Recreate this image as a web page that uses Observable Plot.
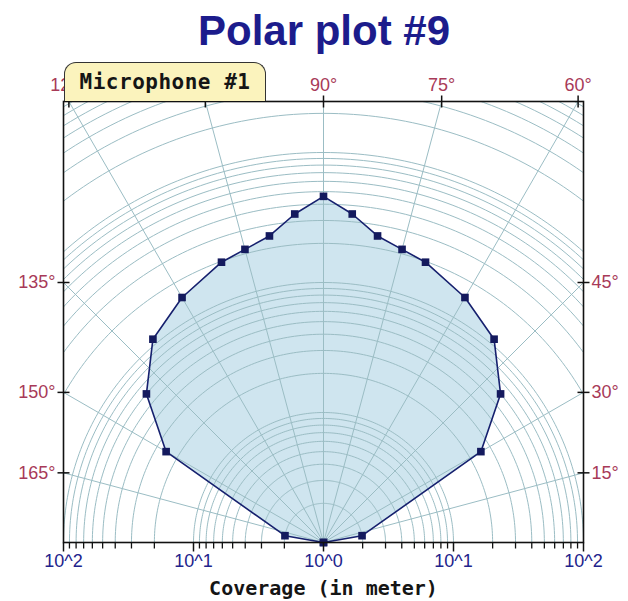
<!DOCTYPE html>
<html><head><meta charset="utf-8">
<script src="https://cdn.jsdelivr.net/npm/d3@7"></script>
<script src="https://cdn.jsdelivr.net/npm/@observablehq/plot@0.6"></script>
<style>
body{margin:0;background:#fff;}
#wrap{position:relative;width:628px;height:601px;overflow:hidden;}
#chart{position:absolute;left:0;top:0;}
#title{position:absolute;left:0;top:10px;width:648px;text-align:center;font:bold 42px "Liberation Sans",Arial,sans-serif;line-height:42px;color:#1c1c8c;}
#tab{position:absolute;left:64px;top:62px;width:202px;height:39px;box-sizing:border-box;background:#fbf3bd;border:1.5px solid #333;border-bottom:none;border-radius:12px 12px 0 0;font:bold 21px "DejaVu Sans Mono",monospace;letter-spacing:0.5px;color:#151515;display:flex;align-items:center;justify-content:center;}
</style></head><body>
<div id="wrap"><div id="chart"></div><div id="title">Polar plot #9</div><div id="tab">Microphone #1</div></div>
<script>
// ---- data (angle in degrees, radius in meter) ----
const angles = [0, 10, 30, 40, 50, 60, 70, 75, 80, 85, 90, 95, 100, 105, 110, 120, 130, 140, 150, 170, 180];
const radii  = [1, 2, 25, 60, 110, 150, 197, 216, 248, 344, 460, 344, 248, 216, 197, 150, 110, 60, 25, 2, 1];
const angleTicks = [15, 30, 45, 60, 75, 90, 105, 120, 135, 150, 165];
const angleLabels = [15, 30, 45, 60, 75, 90, 120, 135, 150, 165]; // 105° is hidden under the legend tab
const spokeAngles = [0, 15, 30, 45, 60, 75, 90, 105, 120, 135, 150, 165, 180];
const gridRadii = [2,3,4,5,6,7,8,9,10,20,30,40,50,60,70,80,90,100,200,300,400,500,600,700,800,900,1000,2000,3000,4000,5000,6000,7000,8000,9000];
const axisTickValues = [-2, -1, 0, 1, 2];
const axisTickLabels = ["10^2", "10^1", "10^0", "10^1", "10^2"];
const minorMultipliers = [2,3,4,5,6,7,8,9];
const xTitle = "Coverage (in meter)";

// ---- layout ----
const W = 628, H = 601, mL = 63, mR = 45, mT = 101, mB = 59;
const innerW = W - mL - mR, innerH = H - mT - mB;
const pxPerDecade = innerW / 4;
const yMax = innerH / pxPerDecade;
const u = 1 / pxPerDecade; // data units per pixel
const rad = d => d * Math.PI / 180;

const pts = angles.map((a, i) => {
  const L = Math.log10(radii[i]);
  return {x: L * Math.cos(rad(a)), y: L * Math.sin(rad(a))};
});

const circles = [];
for (const g of gridRadii) {
  const L = Math.log10(g);
  for (let t = 0; t <= 180; t += 1) circles.push({g, x: L * Math.cos(rad(t)), y: L * Math.sin(rad(t))});
}
const spokes = spokeAngles.map(a => ({x2: 6 * Math.cos(rad(a)), y2: 6 * Math.sin(rad(a))}));

function hit(a) {
  const c = Math.cos(rad(a)), s = Math.sin(rad(a));
  let t = yMax / s, side = "top";
  if (c > 1e-9 && 2 / c < t) { t = 2 / c; side = "right"; }
  if (c < -1e-9 && -2 / c < t) { t = -2 / c; side = "left"; }
  return {a, x: t * c, y: t * s, side, label: a + "°"};
}
const angPos = angleTicks.map(hit);
const labPos = angleLabels.map(hit);
const topT = angPos.filter(d => d.side === "top");
const sideT = angPos.filter(d => d.side !== "top");
const topL = labPos.filter(d => d.side === "top");
const leftL = labPos.filter(d => d.side === "left");
const rightL = labPos.filter(d => d.side === "right");

const minorTicks = [];
for (const d of [0, 1]) for (const k of minorMultipliers) {
  const v = Math.log10(k * Math.pow(10, d));
  minorTicks.push(v, -v);
}

const gridColor = "#9bbdc4";
const angColor = "#a83a58";
const navy = "#22238c";
const sans = "Liberation Sans, Arial, sans-serif";

const chart = Plot.plot({
  width: W, height: H,
  marginLeft: mL, marginRight: mR, marginTop: mT, marginBottom: mB,
  x: {domain: [-2, 2], axis: null},
  y: {domain: [0, yMax], axis: null},
  style: {background: "transparent", overflow: "visible"},
  marks: [
    Plot.line(pts, {x: "x", y: "y", fill: "#cfe5ef", stroke: "none"}),
    Plot.line(circles, {x: "x", y: "y", z: "g", stroke: gridColor, strokeWidth: 1, clip: true}),
    Plot.link(spokes, {x1: () => 0, y1: () => 0, x2: "x2", y2: "y2", stroke: gridColor, strokeWidth: 1, clip: true}),
    Plot.line(pts, {x: "x", y: "y", stroke: "#16206e", strokeWidth: 1.6}),
    Plot.dot(pts, {x: "x", y: "y", symbol: "square", r: 4.3, fill: "#141a5e", stroke: "none"}),
    Plot.frame({stroke: "#111", strokeWidth: 1.6}),
    // angle ticks across the frame
    Plot.link(topT, {x1: "x", x2: "x", y1: d => d.y - 6 * u, y2: d => d.y + 6 * u, stroke: "#111", strokeWidth: 1.5}),
    Plot.link(sideT, {x1: d => d.x - 6 * u, x2: d => d.x + 6 * u, y1: "y", y2: "y", stroke: "#111", strokeWidth: 1.5}),
    Plot.text(topL, {x: "x", y: "y", text: "label", dy: -16, fill: angColor, fontSize: 18, fontFamily: sans}),
    Plot.text(leftL, {x: "x", y: "y", text: "label", dx: -8, textAnchor: "end", fill: angColor, fontSize: 18, fontFamily: sans}),
    Plot.text(rightL, {x: "x", y: "y", text: "label", dx: 8, textAnchor: "start", fill: angColor, fontSize: 18, fontFamily: sans}),
    // bottom log axis
    Plot.link(minorTicks, {x1: d => d, x2: d => d, y1: () => 0, y2: () => -6 * u, stroke: "#111", strokeWidth: 1.3}),
    Plot.link(axisTickValues, {x1: d => d, x2: d => d, y1: () => 0, y2: () => -9 * u, stroke: "#111", strokeWidth: 1.5}),
    Plot.text(axisTickValues, {x: d => d, y: () => 0, text: (d, i) => axisTickLabels[i], dy: 19, fill: navy, fontSize: 18, fontFamily: sans}),
    Plot.text([xTitle], {frameAnchor: "bottom", text: d => d, dy: 46, lineAnchor: "middle", fill: "#151515", fontSize: 20, fontWeight: "bold", fontFamily: "DejaVu Sans Mono, monospace", letterSpacing: 1})
  ]
});
document.getElementById("chart").appendChild(chart);
</script>
</body></html>
